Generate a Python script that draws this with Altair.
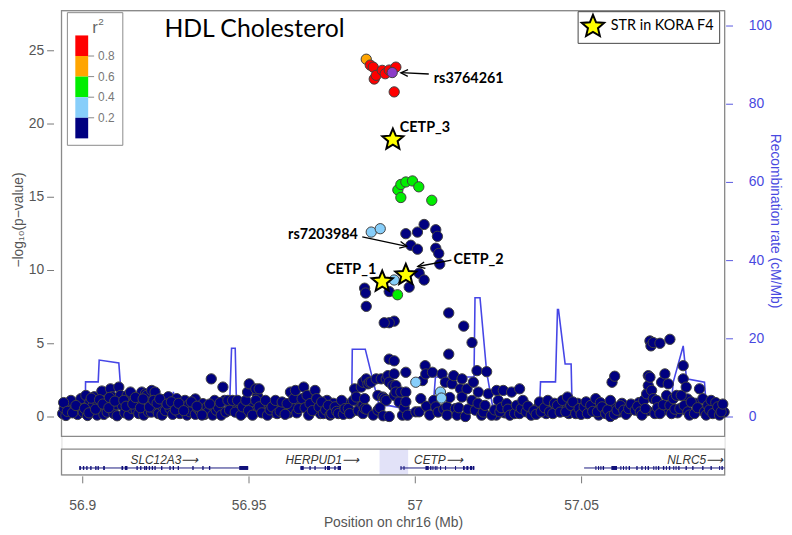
import altair as alt
import pandas as pd

# ---------------- data ----------------
navy_left = [
(56.8941,0.20),(56.8946,0.54),(56.8951,0.07),(56.8960,0.70),(56.8966,1.10),(56.8976,0.43),(56.8986,0.14),(56.8991,0.88),
(56.8996,1.22),(56.9003,0.30),(56.9011,1.44),(56.9016,0.07),(56.9023,1.00),(56.9031,0.68),(56.9036,1.35),(56.9045,0.10),
(56.9048,0.90),(56.9056,0.54),(56.9059,1.74),(56.9065,0.14),(56.9070,1.10),(56.9075,0.30),(56.9085,1.89),(56.9090,1.35),
(56.9095,0.20),(56.9102,0.80),(56.9105,0.05),(56.9110,2.01),(56.9115,1.44),(56.9120,0.76),(56.9128,0.25),(56.9135,1.44),
(56.9140,0.10),(56.9145,1.22),(56.9145,1.67),(56.9150,0.54),(56.9155,1.01),(56.9162,0.45),(56.9165,0.85),(56.9170,0.20),
(56.9179,1.67),(56.9185,0.10),(56.9190,1.55),(56.9194,1.44),(56.9199,0.32),(56.9205,1.00),(56.9208,0.30),(56.9209,1.78),
(56.9219,1.67),(56.9219,0.54),(56.9229,0.20),(56.9238,0.75),(56.9240,0.10),(56.9245,1.15),(56.9250,0.40),(56.9259,1.35),
(56.9264,0.54),(56.9272,0.15),(56.9274,1.01),(56.9284,1.22),(56.9294,0.20),(56.9299,0.68),(56.9309,1.10),(56.9315,0.10),
(56.9320,0.80),(56.9324,0.32),(56.9333,0.99),(56.9340,0.15),(56.9340,1.20),(56.9348,0.54),(56.9355,0.35),(56.9363,0.88),
(56.9368,0.14),(56.9375,0.65),(56.9378,0.30),(56.9388,2.57),(56.9392,0.10),(56.9395,0.70),(56.9398,1.10),(56.9403,0.43),
(56.9410,0.60),(56.9418,0.09),(56.9423,2.01),(56.9428,1.10),(56.9432,0.30),
]
navy_mid = [
(56.9438,1.10),(56.9443,0.43),(56.9452,1.10),(56.9460,0.30),(56.9467,1.10),(56.9477,0.09),(56.9482,0.66),(56.9492,1.10),
(56.9497,1.67),(56.9500,0.40),(56.9502,2.23),(56.9512,0.09),(56.9522,1.10),(56.9522,1.89),(56.9532,1.89),(56.9532,0.66),
(56.9540,0.25),(56.9551,1.10),(56.9557,0.09),(56.9565,0.45),(56.9571,0.66),(56.9581,1.10),(56.9586,0.20),(56.9595,0.35),
(56.9601,0.99),(56.9610,0.15),(56.9616,0.88),(56.9626,1.67),(56.9636,1.22),(56.9641,1.78),(56.9645,0.25),(56.9651,0.54),
(56.9661,1.22),(56.9666,2.01),(56.9670,0.60),(56.9676,1.44),(56.9681,0.09),(56.9685,0.88),(56.9692,0.40),(56.9700,1.78),
(56.9705,1.22),(56.9712,0.65),(56.9720,0.99),(56.9725,0.20),(56.9732,0.45),(56.9740,0.76),(56.9745,0.10),(56.9750,0.20),
(56.9760,0.66),(56.9765,0.35),(56.9770,0.20),(56.9780,1.10),(56.9785,0.15),(56.9790,0.54),(56.9800,0.55),(56.9804,0.20),
(56.9815,1.10),(56.9819,1.89),(56.9824,1.33),(56.9830,0.40),(56.9839,2.01),(56.9844,0.76),(56.9844,0.20),(56.9844,2.34),
(56.9849,1.22),(56.9849,0.54),(56.9854,2.57),(56.9855,0.50),(56.9859,2.23),(56.9864,2.34),(56.9869,2.34),(56.9875,0.10),
(56.9884,2.57),(56.9889,1.44),(56.9889,0.43),(56.9895,0.60),(56.9899,2.57),(56.9904,1.33),(56.9905,0.05),(56.9909,1.22),
(56.9914,2.57),(56.9914,1.10),(56.9919,2.79),(56.9923,0.00),(56.9923,3.92),(56.9923,2.34),(56.9934,2.11),(56.9938,2.91),
(56.9938,1.44),(56.9943,2.11),(56.9943,1.67),
]
navy_peak = [
(56.9973,12.48),(57.0008,12.59),(57.0028,13.11),(57.0063,12.75),(57.0068,12.30),(56.9988,11.69),(57.0008,11.42),
(57.0063,11.49),(57.0072,11.13),(57.0075,10.41),(57.0013,9.78),(57.0028,9.32),(56.9983,8.83),(56.9923,8.53),
(56.9849,8.76),(56.9852,8.43),(56.9854,7.52),(56.9938,6.51),(56.9923,6.40),(56.9908,6.40),(57.0102,7.07),
(57.0147,6.17),(57.0172,5.05),(57.0102,4.26),(56.9938,3.80),(57.0031,3.47),(56.9973,3.02),(57.0187,3.13),(57.0216,3.06),
]
navy_east = [
(56.9953,0.99),(56.9958,1.67),(56.9963,0.09),(56.9968,0.60),(56.9973,1.67),(56.9973,1.01),(56.9978,0.09),(57.0003,0.32),
(57.0013,0.32),(57.0018,1.22),(57.0023,2.45),(57.0033,2.91),(57.0035,0.70),(57.0045,0.10),(57.0053,3.02),(57.0057,1.10),
(57.0063,0.66),(57.0070,0.30),(57.0082,2.91),(57.0087,0.50),(57.0092,2.34),(57.0097,0.66),(57.0097,0.09),(57.0105,1.30),
(57.0112,2.23),(57.0117,2.79),(57.0122,0.54),(57.0127,0.09),(57.0132,0.60),(57.0137,1.89),(57.0142,2.57),(57.0142,1.33),
(57.0152,0.00),(57.0157,1.89),(57.0160,0.50),(57.0172,1.10),(57.0176,2.34),(57.0182,0.43),(57.0190,0.90),(57.0191,1.67),
(57.0201,0.09),(57.0206,0.30),(57.0211,0.76),(57.0221,1.55),(57.0231,0.09),(57.0240,0.45),(57.0246,1.78),(57.0251,1.10),
(57.0256,0.32),(57.0260,0.60),(57.0266,1.78),(57.0276,0.88),(57.0280,0.50),(57.0286,0.09),(57.0291,1.67),(57.0300,0.20),
(57.0306,0.76),(57.0315,1.89),(57.0315,0.20),(57.0320,0.55),(57.0325,1.10),(57.0335,0.32),(57.0340,0.70),(57.0350,0.09),
(57.0358,0.40),(57.0365,0.15),(57.0375,0.99),(57.0380,0.32),(57.0390,0.60),(57.0400,1.10),(57.0405,0.32),
]
navy_right = [
(57.0415,0.20),(57.0420,0.90),(57.0429,0.76),(57.0437,0.30),(57.0444,1.10),(57.0454,0.32),(57.0459,1.33),(57.0469,0.76),
(57.0475,1.00),(57.0484,0.20),(57.0494,0.54),(57.0500,0.15),(57.0509,0.66),(57.0515,1.00),(57.0519,0.20),(57.0529,0.76),
(57.0535,0.35),(57.0544,1.22),(57.0549,0.32),(57.0558,0.95),(57.0563,0.66),(57.0574,0.20),(57.0580,0.45),(57.0588,1.10),
(57.0588,0.00),(57.0593,2.34),(57.0601,2.75),(57.0600,0.15),(57.0608,0.43),(57.0618,0.75),(57.0628,0.43),(57.0635,0.15),
(57.0643,0.54),(57.0650,0.85),(57.0663,0.43),(57.0670,0.70),(57.0678,0.32),(57.0683,0.10),(57.0688,1.10),(57.0693,0.54),
(57.0697,1.55),(57.0702,2.79),(57.0702,2.11),(57.0707,5.16),(57.0710,4.82),(57.0717,5.05),(57.0737,5.00),(57.0767,5.27),
(57.0707,2.68),(57.0712,1.78),(57.0717,1.22),(57.0722,0.20),(57.0727,1.10),(57.0730,0.60),(57.0737,0.20),(57.0742,2.34),
(57.0747,0.80),(57.0752,2.91),(57.0757,1.44),(57.0762,2.23),(57.0767,0.76),(57.0772,0.20),(57.0777,1.22),(57.0782,0.50),
(57.0787,1.44),(57.0797,0.54),(57.0801,1.44),(57.0807,3.47),(57.0807,2.57),(57.0810,0.75),(57.0816,2.01),(57.0821,0.32),
(57.0826,0.10),(57.0831,0.99),(57.0841,0.20),(57.0850,0.60),(57.0856,1.89),(57.0866,1.22),(57.0871,0.32),(57.0876,0.10),
(57.0881,0.76),(57.0886,0.45),(57.0891,1.10),(57.0896,0.20),(57.0905,0.95),(57.0911,0.66),(57.0916,0.10),(57.0921,0.32),
(57.0926,0.85),
]
navy_band = [
(56.8944,0.95),(56.8955,0.35),(56.8971,0.25),(56.8981,0.75),(56.9007,0.55),(56.9020,0.25),(56.9027,1.25),(56.9040,0.50),
(56.9052,1.15),(56.9062,0.85),(56.9080,0.60),(56.9082,1.30),(56.9098,1.05),(56.9125,1.10),(56.9132,0.70),(56.9152,0.85),
(56.9160,1.30),(56.9175,0.60),(56.9183,1.20),(56.9202,0.65),(56.9215,1.10),(56.9225,0.90),(56.9233,1.20),(56.9255,0.85),
(56.9268,1.00),(56.9280,0.45),(56.9290,0.90),(56.9305,0.40),(56.9328,1.00),(56.9345,0.70),(56.9360,0.10),(56.9383,0.85),
(56.9415,0.95),(56.9447,0.80),(56.9457,0.60),(56.9472,0.45),(56.9487,0.30),(56.9507,0.75),(56.9517,0.35),(56.9527,1.40),
(56.9547,0.55),(56.9562,0.85),(56.9576,0.30),(56.9590,0.80),(56.9606,0.45),(56.9621,0.25),(56.9631,0.60),(56.9656,0.85),
(56.9690,1.30),(56.9716,0.20),(56.9736,1.10),(56.9755,0.90),(56.9775,0.80),(56.9795,0.85),(56.9810,0.30),(56.9835,0.65),
(57.0245,0.10),(57.0270,0.25),(57.0295,0.40),(57.0330,0.85),(57.0345,0.35),(57.0370,0.60),(57.0395,0.20),
(57.0442,0.55),(57.0463,0.20),(57.0490,0.90),(57.0523,0.45),(57.0540,0.70),(57.0553,0.10),(57.0568,0.40),(57.0595,0.75),
(57.0613,0.30),(57.0623,0.90),(57.0640,0.30),(57.0656,0.65),(57.0674,0.95),(57.0700,0.40),(57.0745,0.40),(57.0790,0.25),
(57.0820,1.20),(57.0845,0.90),(57.0860,0.45),(57.0901,0.50),(57.0930,0.30),
]
lightblue = [(56.9869,12.59),(56.9896,12.82),(56.9938,9.32),(57.0003,2.34),(57.0077,1.67),(57.0080,1.26)]
green = [(56.9949,15.47),(56.9958,15.84),(56.9973,16.01),(56.9993,16.08),(57.0012,15.68),(56.9958,14.95),(57.0051,14.76),(56.9948,8.31)]
orange = [(56.9854,24.39)]
red = [(56.9866,23.99),(56.9875,23.85),(56.9878,23.04),(56.9884,23.29),(56.9902,23.63),(56.9911,23.40),(56.9923,23.65),(56.9943,23.85),(56.9938,22.16)]
lead = [(56.9932,23.48)]

star_names = ["CETP_3", "CETP_1", "CETP_2"]
star_pos = [56.9934, 56.9902, 56.9973]
star_logp = [18.90, 9.21, 9.66]

ann_left_text = ["rs3764261", "CETP_3", "CETP_2"]
ann_left_pos = [57.0057, 56.9955, 57.0116]
ann_left_logp = [23.02, 19.66, 10.68]
ann_right_text = ["rs7203984", "CETP_1"]
ann_right_pos = [56.9829, 56.9884]
ann_right_logp = [12.36, 10.00]

arrow_tail_pos = [57.0042, 56.9842, 57.0110]
arrow_tail_logp = [23.38, 12.26, 10.68]
arrow_tip_pos = [56.9958, 56.9976, 57.0009]
arrow_tip_logp = [23.47, 11.62, 10.24]
arrow_angle = [2.7, 192.0, 349.2]

rec_pos = [56.8938, 56.9009, 56.9010, 56.9048, 56.9051, 56.9110, 56.9119, 56.9272, 56.9274, 56.9277, 56.9443,
           56.9449, 56.9460, 56.9464, 56.9604, 56.9652, 56.9661, 56.9810, 56.9812, 56.9851, 56.9893, 56.9923,
           56.9982, 57.0054, 57.0062, 57.0178, 57.0181, 57.0196, 57.0216, 57.0235, 57.0375, 57.0378, 57.0423,
           57.0429, 57.0432, 57.0452, 57.0470, 57.0473, 57.0770, 57.0777, 57.0807, 57.0817, 57.0871, 57.0876, 57.0932]
rec_rate = [1.0, 1.0, 8.86, 8.86, 14.43, 13.67, 3.29, 3.29, 6.33, 3.29, 2.53,
            17.47, 17.47, 2.03, 0.51, 0.51, 2.03, 2.03, 17.22, 17.22, 2.78, 2.78,
            1.77, 1.27, 10.1, 10.1, 30.38, 30.38, 11.39, 2.03, 2.03, 8.86, 8.86,
            27.34, 27.34, 13.42, 13.42, 2.03, 2.03, 8.8, 18.05, 9.62, 8.78, 2.86, 2.03]

gene_names = ["SLC12A3", "HERPUD1", "CETP", "NLRC5"]
gene_start = [56.8991, 56.9656, 56.9957, 57.0509]
gene_end = [56.9499, 56.9778, 57.0179, 57.0932]
gene_label_pos = [56.9247, 56.9722, 57.0071, 57.0843]
exon_start = [56.8991, 56.9002, 56.9012, 56.9024, 56.9039, 56.9046, 56.9063, 56.9118, 56.9128, 56.9163, 56.9174,
              56.9186, 56.9191, 56.9200, 56.9209, 56.9217, 56.9237, 56.9262, 56.9272, 56.9287, 56.9331, 56.9361,
              56.9381, 56.9472,
              56.9656, 56.9683, 56.9698, 56.9729, 56.9736, 56.9758, 56.9768,
              56.9957, 56.9966, 57.0032, 57.0046, 57.0053, 57.0060, 57.0065, 57.0076, 57.0091, 57.0121, 57.0145,
              57.0155, 57.0166, 57.0174,
              57.0543, 57.0551, 57.0558, 57.0565, 57.0591, 57.0618, 57.0626, 57.0634, 57.0643, 57.0666, 57.0681,
              57.0692, 57.0700, 57.0717, 57.0724, 57.0731, 57.0746, 57.0755, 57.0764, 57.0777, 57.0784, 57.0792,
              57.0814, 57.0834, 57.0864, 57.0889, 57.0915, 57.0922]
exon_end = [56.8996, 56.9006, 56.9016, 56.9028, 56.9043, 56.9050, 56.9068, 56.9123, 56.9136, 56.9167, 56.9178,
            56.9190, 56.9195, 56.9204, 56.9213, 56.9221, 56.9241, 56.9266, 56.9276, 56.9291, 56.9335, 56.9365,
            56.9385, 56.9499,
            56.9666, 56.9687, 56.9702, 56.9733, 56.9745, 56.9762, 56.9778,
            56.9960, 56.9969, 57.0042, 57.0050, 57.0056, 57.0063, 57.0068, 57.0079, 57.0094, 57.0124, 57.0150,
            57.0161, 57.0172, 57.0179,
            57.0546, 57.0554, 57.0561, 57.0569, 57.0608, 57.0621, 57.0629, 57.0637, 57.0647, 57.0670, 57.0685,
            57.0695, 57.0704, 57.0720, 57.0727, 57.0735, 57.0750, 57.0758, 57.0768, 57.0780, 57.0787, 57.0796,
            57.0818, 57.0838, 57.0868, 57.0893, 57.0918, 57.0926]
highlight_start = [56.9894]
highlight_end = [56.9980]

ld_classes = ["r", "o", "g", "lb", "navy", "lead"]
ld_colors = ["#FF0000", "#FFA500", "#00EE00", "#87CEFA", "#000080", "#8B3CC8"]
ld_breaks = ["0.8", "0.6", "0.4", "0.2"]

# ---------------- chart ----------------
W, H = 670, 469
STAR = "M0,-1L0.265,-0.364L0.951,-0.309L0.428,0.139L0.588,0.809L0,0.45L-0.588,0.809L-0.428,0.139L-0.951,-0.309L-0.265,-0.364Z"
CHEV = "M1.6,-0.75L0,0L1.6,0.75"

XS = alt.Scale(domain=[56.89375, 57.09315], nice=False, zero=False)
XAX = alt.Axis(values=[56.9, 56.95, 57.0, 57.05], format="~g", domain=False, grid=False, offset=1,
               tickSize=7, tickColor="#777", labelColor="#555", labelFont="Liberation Sans",
               labelFontSize=14, labelPadding=16, title="Position on chr16 (Mb)", titleColor="#555",
               titleFont="Liberation Sans", titleFontSize=14, titleFontWeight="normal", titlePadding=3)
YS = alt.Scale(domain=[-3.986, 27.703], nice=False, zero=False)
YAX = alt.Axis(orient="left", values=[0, 5, 10, 15, 20, 25], domain=False, grid=False, offset=8,
               tickSize=7, tickColor="#777", labelColor="#555", labelFont="Liberation Sans",
               labelFontSize=14, labelPadding=3, title="−log₁₀(p−value)", titleColor="#555",
               titleFont="Liberation Sans", titleFontSize=14, titleFontWeight="normal",
               titleAngle=270, titleBaseline="middle", titleX=-35, titleY=211)
RS = alt.Scale(domain=[-14.937, 103.797], nice=False, zero=False)
RAX = alt.Axis(orient="right", values=[0, 20, 40, 60, 80, 100], domain=False, grid=False, offset=1,
               tickSize=7, tickColor="#5858E0", labelColor="#4848E0", labelFont="Liberation Sans",
               labelFontSize=14, labelPadding=16, title="Recombination rate (cM/Mb)", titleColor="#4848E0",
               titleFont="Liberation Sans", titleFontSize=14, titleFontWeight="normal",
               titleAngle=90, titleBaseline="middle", titleX=49, titleY=212)


def X(f):
    return alt.X(f, type="quantitative", scale=XS, axis=XAX)


def Y(f):
    return alt.Y(f, type="quantitative", scale=YS, axis=YAX)


def pts(lst, cls):
    return pd.DataFrame({"pos": [p for p, _ in lst], "logp": [v for _, v in lst], "ld": cls})


snp_df = pd.concat([pts(navy_left + navy_band + navy_mid + navy_peak + navy_east + navy_right, "navy"),
                    pts(lightblue, "lb"), pts(green, "g"), pts(orange, "o"), pts(red, "r"),
                    pts(lead, "lead")], ignore_index=True)
rec_df = pd.DataFrame({"pos": rec_pos, "rate": rec_rate, "i": list(range(len(rec_pos)))})
gene_df = pd.DataFrame({"s": gene_start, "e": gene_end})
glab_df = pd.DataFrame({"pos": gene_label_pos, "label": [g + "⟶" for g in gene_names]})
exon_df = pd.DataFrame({"s": exon_start, "e": exon_end})
hl_df = pd.DataFrame({"s": highlight_start, "e": highlight_end})
star_df = pd.DataFrame({"pos": star_pos, "logp": star_logp, "name": star_names})
annl_df = pd.DataFrame({"pos": ann_left_pos, "logp": ann_left_logp, "t": ann_left_text})
annr_df = pd.DataFrame({"pos": ann_right_pos, "logp": ann_right_logp, "t": ann_right_text})
arr_df = pd.DataFrame({"x0": arrow_tail_pos, "y0": arrow_tail_logp, "x1": arrow_tip_pos,
                       "y1": arrow_tip_logp, "ang": arrow_angle})
one = pd.DataFrame({"k": [0]})

layers = []
layers.append(alt.Chart(hl_df).mark_rect(color="#E2E2F8").encode(
    x=X("s"), x2="e", y=alt.value(443), y2=alt.value(469)))
layers.append(alt.Chart(one).mark_rect(fillOpacity=0, stroke="#8a8a8a", strokeWidth=1.2).encode(
    x=alt.value(0), x2=alt.value(W), y=alt.value(0), y2=alt.value(430)))
layers.append(alt.Chart(one).mark_rect(fillOpacity=0, stroke="#8a8a8a", strokeWidth=1.2).encode(
    x=alt.value(0), x2=alt.value(W), y=alt.value(443), y2=alt.value(469)))
layers.append(alt.Chart(gene_df).mark_rule(color="#1a1a80", strokeWidth=1).encode(
    x=X("s"), x2="e", y=alt.value(462)))
layers.append(alt.Chart(exon_df).mark_rect(color="#10107a").encode(
    x=X("s"), x2="e", y=alt.value(460), y2=alt.value(464)))
layers.append(alt.Chart(glab_df).mark_text(font="Liberation Sans", fontStyle="italic", fontSize=12,
                                           color="#333", align="center", baseline="middle").encode(
    x=X("pos"), y=alt.value(453.5), text="label"))
layers.append(alt.Chart(snp_df).mark_circle(size=108, stroke="#404040", strokeWidth=1, opacity=1).encode(
    x=X("pos"), y=Y("logp"),
    color=alt.Color("ld:N", scale=alt.Scale(domain=ld_classes, range=ld_colors), legend=None)))
layers.append(alt.Chart(star_df).mark_point(shape=STAR, filled=True, fill="#FFFF00", stroke="black",
                                            strokeWidth=2, size=500, opacity=1).encode(
    x=X("pos"), y=Y("logp")))
layers.append(alt.Chart(arr_df).mark_rule(color="black", strokeWidth=1.3).encode(
    x=X("x0"), x2="x1", y=Y("y0"), y2="y1"))
layers.append(alt.Chart(arr_df).mark_point(shape=CHEV, filled=False, stroke="black", strokeWidth=1.3,
                                           size=80, opacity=1).encode(
    x=X("x1"), y=Y("y1"), angle=alt.Angle("ang:Q", scale=None)))
layers.append(alt.Chart(annl_df).mark_text(font="Lato", fontWeight="bold", fontSize=14.5, align="left",
                                           baseline="middle", color="black").encode(
    x=X("pos"), y=Y("logp"), text="t"))
layers.append(alt.Chart(annr_df).mark_text(font="Lato", fontWeight="bold", fontSize=14.5, align="right",
                                           baseline="middle", color="black").encode(
    x=X("pos"), y=Y("logp"), text="t"))
layers.append(alt.Chart(one).mark_text(text="HDL Cholesterol", font="Lato", fontSize=25, align="left",
                                       baseline="middle", color="black").encode(
    x=alt.value(104), y=alt.value(19)))

# r^2 legend
layers.append(alt.Chart(one).mark_rect(fill="white", stroke="#8a8a8a", strokeWidth=1).encode(
    x=alt.value(6), x2=alt.value(62), y=alt.value(2), y2=alt.value(136)))
layers.append(alt.Chart(one).mark_text(text="r", font="Liberation Sans", fontSize=17, color="#666",
                                       align="center", baseline="middle").encode(
    x=alt.value(34), y=alt.value(18)))
layers.append(alt.Chart(one).mark_text(text="2", font="Liberation Sans", fontSize=10, color="#666",
                                       align="center", baseline="middle").encode(
    x=alt.value(40), y=alt.value(11)))
seg = 20.8
for i, c in enumerate(ld_colors[:5]):
    layers.append(alt.Chart(one).mark_rect(color=c).encode(
        x=alt.value(14), x2=alt.value(27), y=alt.value(25 + i * seg), y2=alt.value(25 + (i + 1) * seg)))
for i, b in enumerate(ld_breaks):
    yy = 25 + (i + 1) * seg
    layers.append(alt.Chart(one).mark_rule(color="#888", strokeWidth=1).encode(
        x=alt.value(27), x2=alt.value(33), y=alt.value(yy)))
    layers.append(alt.Chart(one).mark_text(text=b, font="Liberation Sans", fontSize=12, color="#777",
                                           align="left", baseline="middle").encode(
        x=alt.value(37), y=alt.value(yy)))

# star legend
layers.append(alt.Chart(one).mark_rect(fill="white", stroke="#444", strokeWidth=1).encode(
    x=alt.value(522), x2=alt.value(665), y=alt.value(1), y2=alt.value(33)))
layers.append(alt.Chart(one).mark_point(shape=STAR, filled=True, fill="#FFFF00", stroke="black",
                                        strokeWidth=2, size=560, opacity=1).encode(
    x=alt.value(537), y=alt.value(16)))
layers.append(alt.Chart(one).mark_text(text="STR in KORA F4", font="Lato", fontSize=14.5, color="black",
                                       align="left", baseline="middle").encode(
    x=alt.value(555), y=alt.value(16)))

main = alt.layer(*layers)

recomb = alt.Chart(rec_df).mark_line(color="#4646E6", strokeWidth=1.6).encode(
    x=X("pos"), y=alt.Y("rate:Q", scale=RS, axis=RAX), order="i:Q")

chart = alt.layer(recomb, main).resolve_scale(y="independent").properties(
    width=W, height=H,
    padding={"left": 54, "top": 0, "right": 60, "bottom": 58},
    autosize=alt.AutoSizeParams(type="none"),
).configure_view(stroke=None).configure(background="white")

chart.save("out.html", embed_options={"renderer": "svg", "actions": False})
